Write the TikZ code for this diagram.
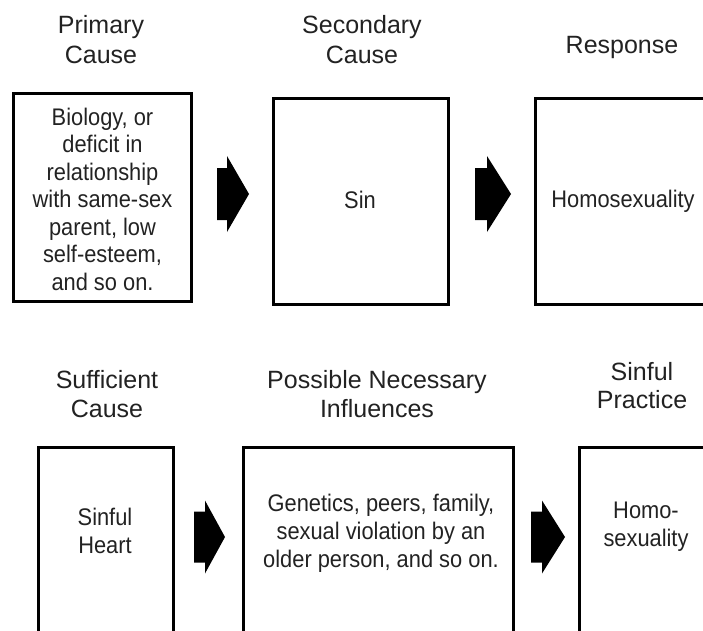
\documentclass[tikz,border=0pt]{standalone}
\usepackage{fontspec}
\setmainfont{Liberation Sans}
\newfontfamily\narrowfont[FakeStretch=0.91]{Liberation Sans}
\definecolor{txt}{HTML}{222222}
\begin{document}
\begin{tikzpicture}[x=1pt,y=-1pt,
  box/.style={draw=black, line width=3.2pt, fill=none, inner sep=0pt},
  title/.style={font=\fontsize{25}{30}\selectfont, align=center, text=txt, inner sep=0pt},
  body/.style={font=\narrowfont\fontsize{24}{28}\selectfont, align=center, text=txt, inner sep=0pt},
  blockarrow/.style={fill=black}]
\useasboundingbox (0,0) rectangle (703,630);
\clip (0,0) rectangle (703,630);
% top row boxes (outer edges minus half line width)
\node[box, minimum width=177.8, minimum height=207.8] (b1) at (102.5,197.5) {};
\node[box, minimum width=174.8, minimum height=205.8] (b2) at (361,201.5) {};
\node[box, minimum width=172.8, minimum height=205.8] (b3) at (622,201.5) {};
% bottom row boxes
\node[box, minimum width=134.8, minimum height=188.8] (b4) at (106,542) {};
\node[box, minimum width=269.8, minimum height=188.8] (b5) at (378.5,542) {};
\node[box, minimum width=128.8, minimum height=188.8] (b6) at (644,542) {};
% titles
\node[title, anchor=base] (t1a) at (101,33) {Primary};
\node[title, anchor=base] (t1b) at (101,63) {Cause};
\node[title, anchor=base] (t2a) at (362,33) {Secondary};
\node[title, anchor=base] (t2b) at (362,63) {Cause};
\node[title, anchor=base] (t3) at (622,53) {Response};
\node[title, anchor=base] (t4a) at (107,388) {Sufficient};
\node[title, anchor=base] (t4b) at (107,417) {Cause};
\node[title, anchor=base] (t5a) at (377,388) {Possible Necessary};
\node[title, anchor=base] (t5b) at (377,417) {Influences};
\node[title, anchor=base] (t6a) at (642,380) {Sinful};
\node[title, anchor=base] (t6b) at (642,408) {Practice};
% box texts
\node[body, font=\narrowfont\fontsize{24}{27.5}\selectfont] (x1) at (102.5,199) {Biology, or\\deficit in\\relationship\\with same-sex\\parent, low\\self-esteem,\\and so on.};
\node[body] (x2) at (360,200) {Sin};
\node[body] (x3) at (623,201) {Homosexuality};
\node[body] (x4) at (105,531) {Sinful\\Heart};
\node[body] (x5) at (381,533) {Genetics, peers, family,\\sexual violation by an\\older person, and so on.};
\node[body] (x6) at (646,527) {Homo-\\sexuality};
% block arrows: start, shaft length, total length, half shaft height, half head height
\coordinate (a1) at (217,194);
\coordinate (a2) at (475,194);
\coordinate (a3) at (194,537);
\coordinate (a4) at (531,537);
\foreach \c/\s/\l/\h/\H in {a1/10/32/26/38, a2/12/36/26/38, a3/11/31/25.5/36.5, a4/11/34/25.5/36.5}{
  \fill[blockarrow] (\c) ++(0,-\h) -- ++(\s,0) -- ++(0,\h-\H) -- ++(\l-\s,\H) -- ++(\s-\l,\H) -- ++(0,\h-\H) -- ++(-\s,0) -- cycle;
}
\end{tikzpicture}
\end{document}
